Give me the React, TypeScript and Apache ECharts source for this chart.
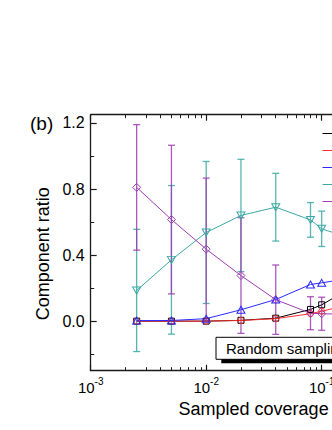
import React, { useEffect, useRef } from "react";
import * as echarts from "echarts";

const coverage = [0.0025, 0.005, 0.01, 0.02, 0.04, 0.08, 0.1, 0.2];
const blackVals = [0, 0, 0, 0.005, 0.018, 0.071, 0.099, 0.22];
const redVals = [0, 0, 0, 0.004, 0.015, 0.045, 0.06, 0.11];
const blueVals = [0.003, 0.004, 0.015, 0.069, 0.131, 0.222, 0.232, 0.265];
const cyanVals = [0.186, 0.371, 0.537, 0.64, 0.69, 0.613, 0.559, 0.49];
const purpleVals = [0.81, 0.615, 0.436, 0.276, 0.13, 0.048, 0.045, 0.04];
const cyanErr = [0.37, 0.45, 0.43, 0.34, 0.205, 0.105, 0.107, 0.1];
const purpleErr = [0.38, 0.45, 0.43, 0.35, 0.21, 0.1, 0.1, 0.1];

const yMajorTicks = [0, 0.4, 0.8, 1.2];
const yMinorTicks = [-0.2, 0.2, 0.6, 1.0];
const xMinorTicks = [
  0.002, 0.003, 0.004, 0.005, 0.006, 0.007, 0.008, 0.009,
  0.02, 0.03, 0.04, 0.05, 0.06, 0.07, 0.08, 0.09,
  0.2, 0.3, 0.4, 0.5, 0.6,
];

const X_MIN = 0.001;
const X_MAX = 0.662;
const Y_MIN = -0.3;
const Y_MAX = 1.25;

const FONT = "'Liberation Sans', Arial, Helvetica, sans-serif";
const AXIS_COLOR = "#1a1a1a";

const BLACK = "#000000";
const RED = "#ff2a2a";
const BLUE = "#2a2aff";
const CYAN = "#3aa9a4";
const PURPLE = "#9c3db0";

// legend icons: a short line followed by the hollow marker (frame 18 x 9)
const FRAME = "M0,0 M18,9 M0,4.5 L10,4.5 ";
const seriesDefs = [
  { name: "s1", vals: blackVals, color: BLACK, symbol: "rect", size: 6, rotate: 0,
    icon: "path://" + FRAME + "M11,1.5 L17,1.5 L17,7.5 L11,7.5 Z" },
  { name: "s2", vals: redVals, color: RED, symbol: "circle", size: 6, rotate: 0,
    icon: "path://" + FRAME + "M11,4.5 A3,3 0 1 0 17,4.5 A3,3 0 1 0 11,4.5 Z" },
  { name: "s3", vals: blueVals, color: BLUE, symbol: "triangle", size: [8, 7], rotate: 0,
    icon: "path://" + FRAME + "M14,1 L18,8 L10,8 Z" },
  { name: "s4", vals: cyanVals, color: CYAN, symbol: "triangle", size: [8, 7], rotate: 180,
    icon: "path://" + FRAME + "M10,1 L18,1 L14,8 Z" },
  { name: "s5", vals: purpleVals, color: PURPLE, symbol: "diamond", size: [8, 8], rotate: 0,
    icon: "path://" + FRAME + "M14,0.5 L18,4.5 L14,8.5 L10,4.5 Z" },
];

function lineSeries(d: any) {
  return {
    type: "line",
    name: d.name,
    xAxisIndex: 0,
    yAxisIndex: 0,
    data: coverage.map((x, i) => [x, d.vals[i]]),
    symbol: d.symbol,
    symbolSize: d.size,
    symbolRotate: d.rotate,
    showSymbol: true,
    lineStyle: { color: d.color, width: 1 },
    itemStyle: { color: "rgba(255,255,255,0)", borderColor: d.color, borderWidth: 1 },
    z: 3,
  };
}

function errorSeries(name: string, vals: number[], errs: number[], color: string) {
  return {
    type: "custom",
    name,
    xAxisIndex: 0,
    yAxisIndex: 0,
    data: coverage.map((x, i) => [x, vals[i] - errs[i], vals[i] + errs[i]]),
    encode: { x: 0, y: [1, 2] },
    z: 2,
    renderItem: (params: any, api: any) => {
      const x = api.value(0);
      const lo = api.coord([x, api.value(1)]);
      const hi = api.coord([x, api.value(2)]);
      const cap = 3.5;
      const style = { stroke: color, lineWidth: 1.3, opacity: 0.85 };
      return {
        type: "group",
        children: [
          { type: "line", shape: { x1: lo[0], y1: lo[1], x2: hi[0], y2: hi[1] }, style },
          { type: "line", shape: { x1: lo[0] - cap, y1: lo[1], x2: lo[0] + cap, y2: lo[1] }, style },
          { type: "line", shape: { x1: hi[0] - cap, y1: hi[1], x2: hi[0] + cap, y2: hi[1] }, style },
        ],
      };
    },
  };
}

const xLabelFormatter = (v: number) => {
  const e = Math.round(Math.log10(v));
  return `{b|10}{s|${e}}`;
};

export default function App() {
  const ref = useRef<HTMLDivElement>(null);

  useEffect(() => {
    if (!ref.current) return;
    const chart = echarts.init(ref.current, undefined, { renderer: "svg" });
    const axisLine = { show: true, onZero: false, lineStyle: { color: AXIS_COLOR, width: 1.3 } };
    const minorLog = xMinorTicks.map((v) => Math.log10(v));
    const logMax = Math.log10(X_MAX);

    chart.setOption({
      animation: false,
      textStyle: { fontFamily: FONT },
      grid: { left: 90.7, top: 114.7, width: 325.8, height: 256, containLabel: false },
      legend: {
        orient: "vertical",
        left: 317,
        top: 123.5,
        itemWidth: 18,
        itemHeight: 9,
        itemGap: 7,
        formatter: () => "",
        textStyle: { fontSize: 9, lineHeight: 9 },
        data: seriesDefs.map((d) => ({
          name: d.name,
          icon: d.icon,
          itemStyle: { color: "rgba(255,255,255,0)", borderColor: d.color, borderWidth: 1 },
        })),
      },
      xAxis: [
        {
          type: "log",
          logBase: 10,
          min: X_MIN,
          max: X_MAX,
          position: "bottom",
          axisLine,
          axisTick: { show: true, inside: true, length: 6, lineStyle: { color: AXIS_COLOR, width: 1.2 } },
          axisLabel: {
            margin: 6,
            showMaxLabel: false,
            formatter: xLabelFormatter,
            rich: {
              b: { fontSize: 15, lineHeight: 18, color: "#000", fontFamily: FONT, verticalAlign: "bottom" },
              s: { fontSize: 10, lineHeight: 10, color: "#000", fontFamily: FONT, verticalAlign: "top" },
            },
          },
          splitLine: { show: false },
          name: "Sampled coverage",
          nameLocation: "middle",
          nameGap: 29,
          nameTextStyle: { fontSize: 18, color: "#000", fontFamily: FONT },
        },
        {
          type: "value",
          min: -3,
          max: logMax,
          position: "bottom",
          axisLine: { show: false, onZero: false },
          axisTick: { show: true, inside: true, length: 3.5, customValues: minorLog, lineStyle: { color: AXIS_COLOR, width: 1 } },
          axisLabel: { show: false },
          splitLine: { show: false },
        },
        {
          type: "log",
          logBase: 10,
          min: X_MIN,
          max: X_MAX,
          position: "top",
          axisLine,
          axisTick: { show: true, inside: true, length: 6, lineStyle: { color: AXIS_COLOR, width: 1.2 } },
          axisLabel: { show: false },
          splitLine: { show: false },
        },
        {
          type: "value",
          min: -3,
          max: logMax,
          position: "top",
          axisLine: { show: false, onZero: false },
          axisTick: { show: true, inside: true, length: 3.5, customValues: minorLog, lineStyle: { color: AXIS_COLOR, width: 1 } },
          axisLabel: { show: false },
          splitLine: { show: false },
        },
      ],
      yAxis: [
        {
          type: "value",
          min: Y_MIN,
          max: Y_MAX,
          position: "left",
          axisLine,
          axisTick: { show: true, inside: true, length: 6, customValues: yMajorTicks, lineStyle: { color: AXIS_COLOR, width: 1.2 } },
          axisLabel: {
            customValues: yMajorTicks,
            formatter: (v: number) => v.toFixed(1),
            fontSize: 16,
            color: "#000",
            margin: 6,
            fontFamily: FONT,
          },
          splitLine: { show: false },
          name: "Component ratio",
          nameLocation: "middle",
          nameGap: 38,
          nameTextStyle: { fontSize: 18, color: "#000", fontFamily: FONT, padding: [0, 22, 0, 0] },
        },
        {
          type: "value",
          min: Y_MIN,
          max: Y_MAX,
          position: "left",
          axisLine: { show: false, onZero: false },
          axisTick: { show: true, inside: true, length: 3.5, customValues: yMinorTicks, lineStyle: { color: AXIS_COLOR, width: 1 } },
          axisLabel: { show: false },
          splitLine: { show: false },
        },
        {
          type: "value",
          min: Y_MIN,
          max: Y_MAX,
          position: "right",
          axisLine,
          axisTick: { show: true, inside: true, length: 6, customValues: yMajorTicks, lineStyle: { color: AXIS_COLOR, width: 1.2 } },
          axisLabel: { show: false },
          splitLine: { show: false },
        },
      ],
      series: [
        errorSeries("cyanErr", cyanVals, cyanErr, CYAN),
        errorSeries("purpleErr", purpleVals, purpleErr, PURPLE),
        ...seriesDefs.map(lineSeries),
      ],
      graphic: [
        {
          type: "text",
          left: 30,
          top: 114,
          style: { text: "(b)", fontSize: 19, fontFamily: FONT, fill: "#000" },
        },
        {
          type: "rect",
          shape: { x: 221.3, y: 341.3, width: 240, height: 22 },
          style: { fill: "#000" },
          z: 10,
        },
        {
          type: "rect",
          shape: { x: 216, y: 337.3, width: 240, height: 22 },
          style: { fill: "#fff", stroke: "#000", lineWidth: 1 },
          z: 11,
        },
        {
          type: "text",
          x: 226,
          y: 348.3,
          style: { text: "Random sampling", fontSize: 15, fontFamily: FONT, fill: "#000", verticalAlign: "middle", align: "left" },
          z: 12,
        },
      ],
    });
    return () => chart.dispose();
  }, []);

  return (
    <div style={{ position: "fixed", left: 0, top: 0, width: 332, height: 430, overflow: "hidden", background: "#fff" }}>
      <div ref={ref} style={{ width: 480, height: 430 }} />
    </div>
  );
}
